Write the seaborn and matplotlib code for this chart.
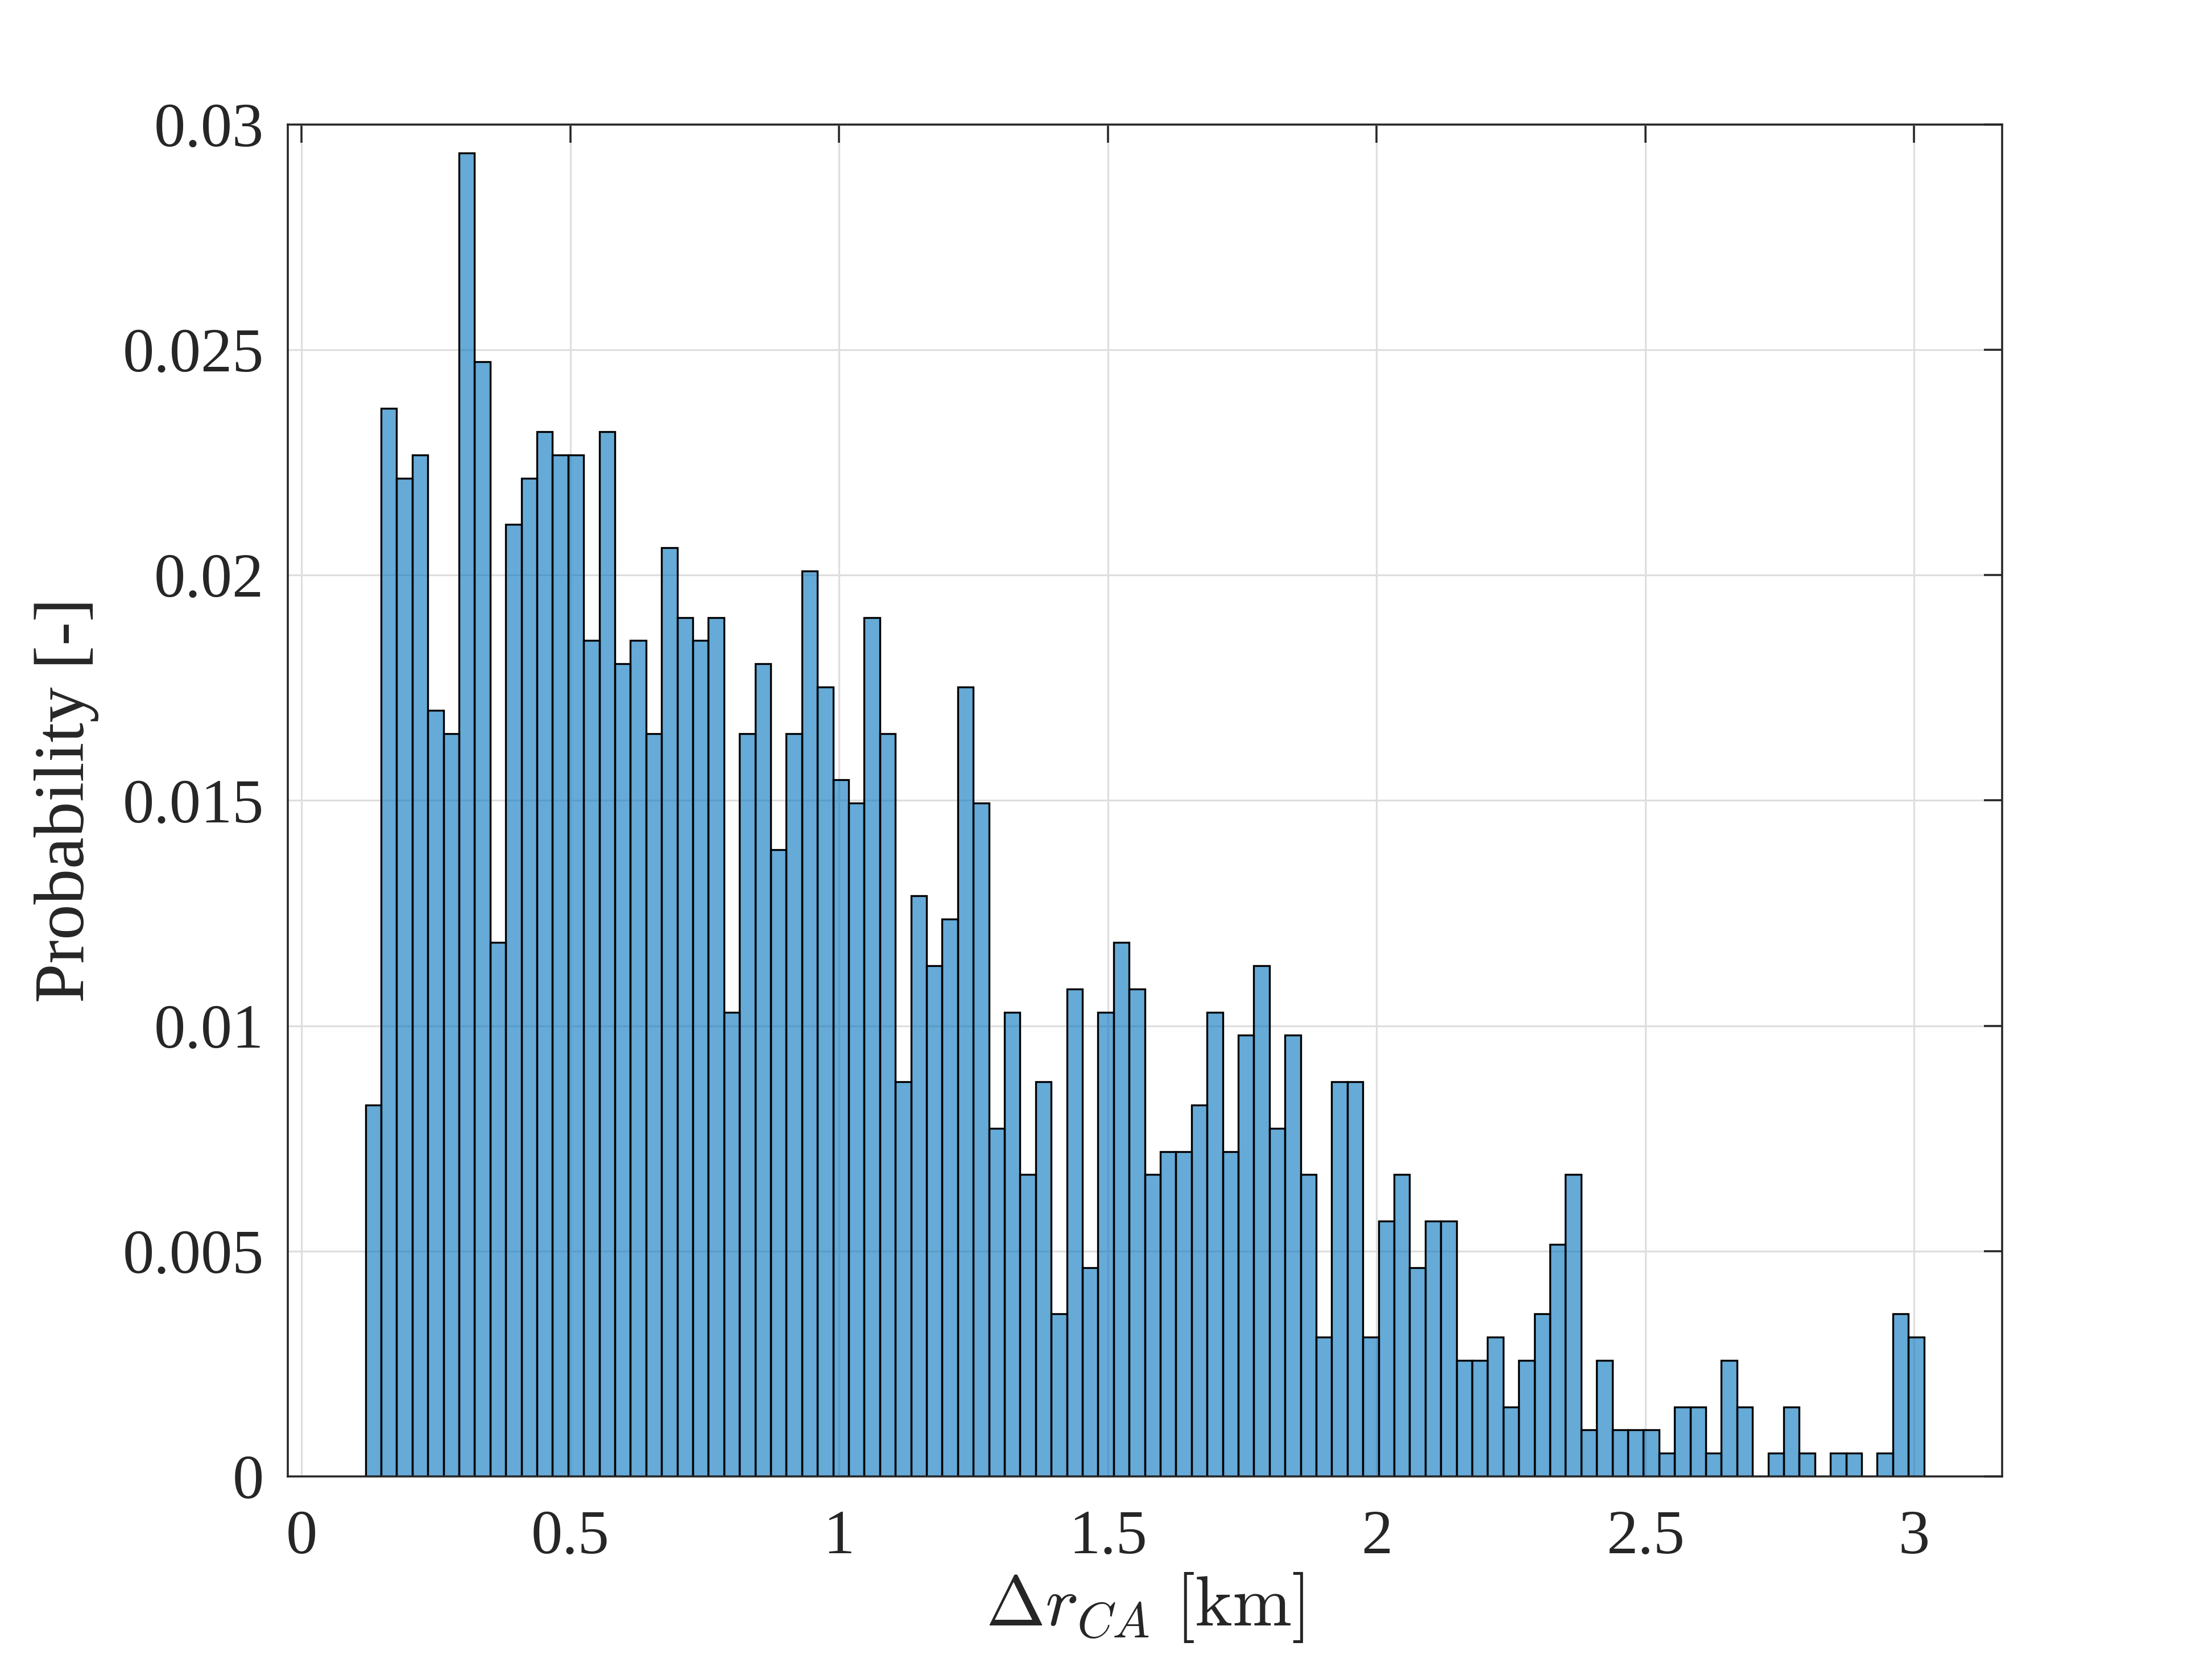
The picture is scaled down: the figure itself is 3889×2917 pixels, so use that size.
#! /usr/bin/env python3

# libraries
import matplotlib.pyplot as plt
import numpy as np
import pandas as pd
import seaborn as sns
from matplotlib.ticker import FuncFormatter

sns.set_style("white")
plt.rcParams["font.family"] = ["Liberation Serif", "DejaVu Serif"]
plt.rcParams["mathtext.fontset"] = "cm"

# histogram: counts per bin (100 bins), normalised to probability
counts = [
    16, 46, 43, 44, 33, 32, 57, 48, 23, 41, 43, 45, 44, 44, 36, 45, 35, 36, 32, 40,
    37, 36, 37, 20, 32, 35, 27, 32, 39, 34, 30, 29, 37, 32, 17, 25, 22, 24, 34, 29,
    15, 20, 13, 17, 7, 21, 9, 20, 23, 21, 13, 14, 14, 16, 20, 14, 19, 22, 15, 19,
    13, 6, 17, 17, 6, 11, 13, 9, 11, 11, 5, 5, 6, 3, 5, 7, 10, 13, 2, 5,
    2, 2, 2, 1, 3, 3, 1, 5, 3, 0, 1, 3, 1, 0, 1, 1, 0, 1, 7, 6,
]
bin_lo = 0.119  # km, left edge of first bin
bin_hi = 3.018  # km, right edge of last bin
x_ticks = [0, 0.5, 1, 1.5, 2, 2.5, 3]
y_ticks = [0, 0.005, 0.01, 0.015, 0.02, 0.025, 0.03]

counts = np.array(counts, dtype=float)
edges = np.linspace(bin_lo, bin_hi, len(counts) + 1)
df = pd.DataFrame(
    {
        "dr": 0.5 * (edges[:-1] + edges[1:]),
        "prob": counts / counts.sum(),
    }
)

fig = plt.figure(figsize=(3889 / 300, 2917 / 300), dpi=300)
ax = fig.add_axes([0.13, 0.11, 0.775, 0.815])

sns.histplot(
    data=df,
    x="dr",
    weights="prob",
    bins=list(edges),
    ax=ax,
    color="#0072BD",
    alpha=0.6,
    edgecolor="black",
    linewidth=0.8,
)

ax.set_xlim(-0.026, 3.163)
ax.set_ylim(0, 0.03)
ax.set_xticks(x_ticks)
ax.set_yticks(y_ticks)
fmt = FuncFormatter(lambda v, p: "%g" % v)
ax.xaxis.set_major_formatter(fmt)
ax.yaxis.set_major_formatter(fmt)

ax.grid(True, color="#dedede", linewidth=0.75)
ax.set_axisbelow(True)
for s in ax.spines.values():
    s.set_visible(True)
    s.set_color("#262626")
    s.set_linewidth(0.85)
ax.tick_params(
    direction="in", length=7.7, width=0.85, color="#262626",
    top=True, right=True, labelsize=26.5, labelcolor="#262626",
)
ax.tick_params(axis="x", pad=14)
ax.tick_params(axis="y", pad=10)

# x label is LaTeX-style (Computer Modern), y label plain serif
ax.set_xlabel(r"$\Delta r_{CA}\ [\mathrm{km}]$", fontsize=30, color="#262626", labelpad=2)
ax.set_ylabel("Probability [-]", fontsize=30, color="#262626", labelpad=10)

plt.savefig("out.png", dpi=300)
